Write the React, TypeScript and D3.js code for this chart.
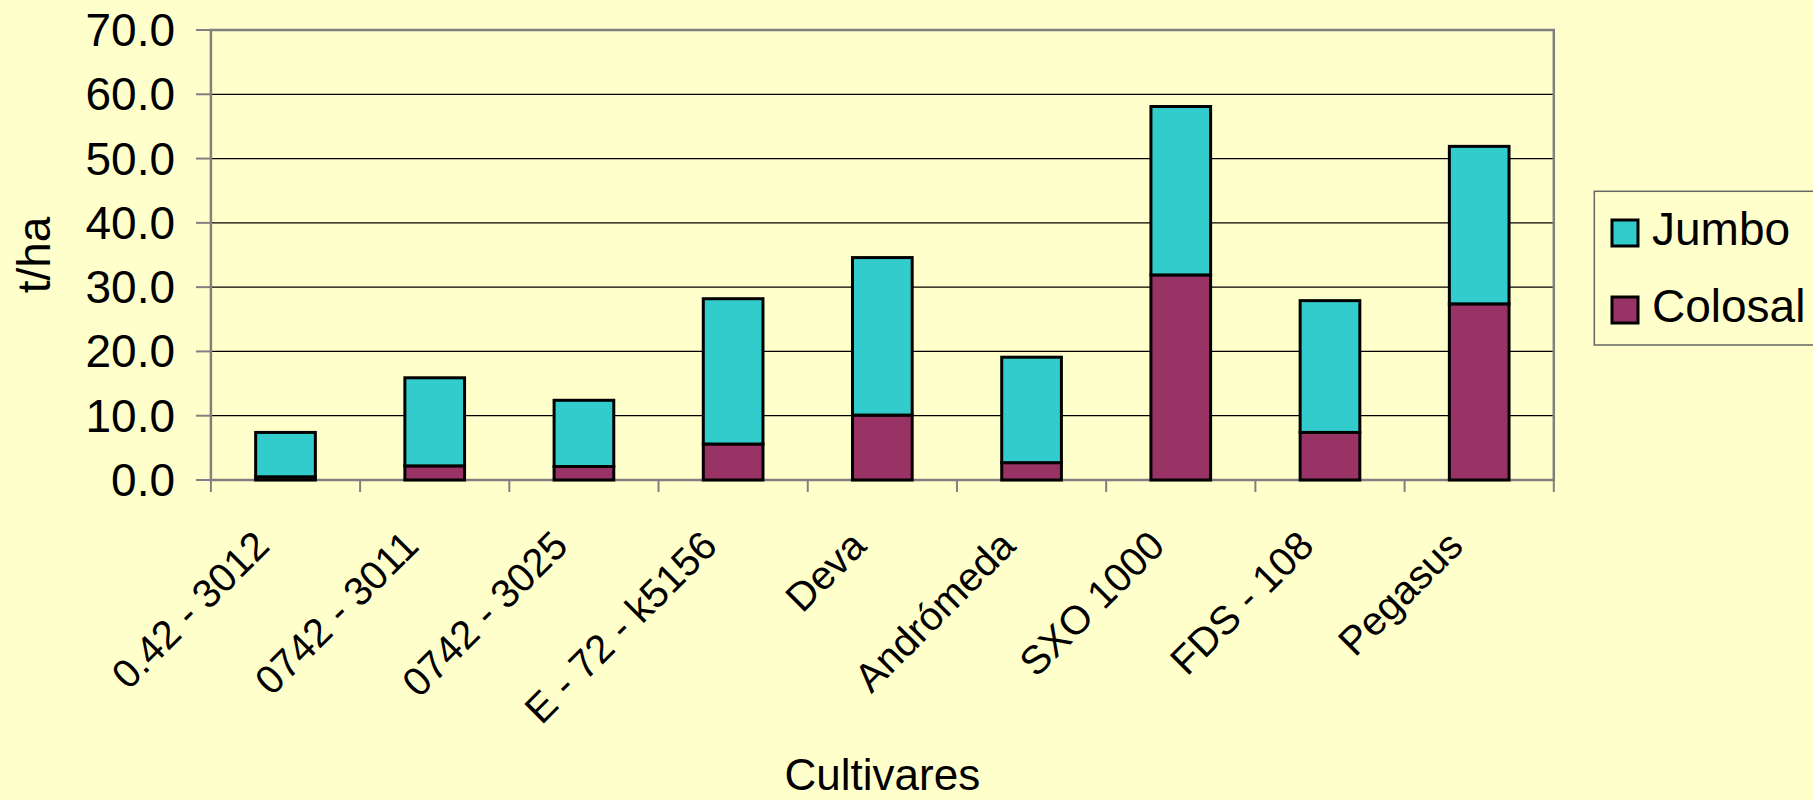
import React from "react";
import * as d3 from "d3";

const categories = [
  "0.42 - 3012",
  "0742 - 3011",
  "0742 - 3025",
  "E - 72 - k5156",
  "Deva",
  "Andrómeda",
  "SXO 1000",
  "FDS - 108",
  "Pegasus",
];
const colosal = [0.5, 2.2, 2.1, 5.6, 10.1, 2.7, 31.9, 7.4, 27.4];
const jumbo = [6.9, 13.7, 10.3, 22.6, 24.5, 16.4, 26.2, 20.5, 24.5];
const yTicks = [0, 10, 20, 30, 40, 50, 60, 70];
const seriesNames = ["Colosal", "Jumbo"];
const seriesColors = ["#993366", "#33CCCC"];

const W = 1813;
const H = 800;
const FONT = "'Liberation Sans', Arial, sans-serif";

export default function App() {
  const left = 210.9;
  const right = 1553.8;
  const top = 30;
  const bottom = 480;

  const x = d3.scaleBand<string>().domain(categories).range([left, right]).padding(0);
  const y = d3.scaleLinear().domain([0, 70]).range([bottom, top]);
  const step = x.step();
  const barW = step * 0.4;

  const rows = categories.map((c, i) => ({ cat: c, Colosal: colosal[i], Jumbo: jumbo[i] }));
  const stack = d3.stack<any>().keys(seriesNames)(rows);

  const boundaries = d3.range(categories.length + 1).map((i) => left + i * step);

  return (
    <svg
      width={W}
      height={H}
      style={{ position: "absolute", left: 0, top: 0, display: "block" }}
      fontFamily={FONT}
    >
      <rect x={0} y={0} width={W} height={H} fill="#FFFFCC" />

      {/* gridlines */}
      {yTicks.slice(1, -1).map((t) => (
        <line key={"g" + t} x1={left} x2={right} y1={y(t)} y2={y(t)} stroke="#000" strokeWidth={1.2} />
      ))}

      {/* plot frame */}
      <rect x={left} y={top} width={right - left} height={bottom - top} fill="none" stroke="#808080" strokeWidth={2.5} />

      {/* y ticks */}
      {yTicks.map((t) => (
        <g key={"yt" + t}>
          <line x1={left - 15} x2={left} y1={y(t)} y2={y(t)} stroke="#808080" strokeWidth={2} />
          <text x={175} y={y(t) + 16} textAnchor="end" fontSize={46} fill="#000">
            {t.toFixed(1)}
          </text>
        </g>
      ))}

      {/* x ticks */}
      {boundaries.map((bx, i) => (
        <line key={"xt" + i} x1={bx} x2={bx} y1={bottom} y2={bottom + 12} stroke="#808080" strokeWidth={2} />
      ))}

      {/* bars */}
      {stack.map((s, si) => (
        <g key={s.key}>
          {s.map((d, i) => (
            <rect
              key={i}
              x={(x(categories[i]) as number) + (step - barW) / 2}
              y={y(d[1])}
              width={barW}
              height={y(d[0]) - y(d[1])}
              fill={seriesColors[si]}
              stroke="#000"
              strokeWidth={3}
            />
          ))}
        </g>
      ))}

      {/* x labels */}
      {categories.map((c) => {
        const cx = (x(c) as number) + step / 2;
        return (
          <text
            key={"xl" + c}
            transform={`translate(${cx - 14},${bottom + 68}) rotate(-45)`}
            textAnchor="end"
            fontSize={40}
            fill="#000"
          >
            {c}
          </text>
        );
      })}

      {/* axis titles */}
      <text x={(left + right) / 2} y={790} textAnchor="middle" fontSize={44} fill="#000">
        Cultivares
      </text>
      <text
        transform={`translate(49.8,${(top + bottom) / 2}) rotate(-90)`}
        textAnchor="middle"
        fontSize={46}
        fill="#000"
      >
        t/ha
      </text>

      {/* legend */}
      <rect x={1594.3} y={191.3} width={260} height={153.7} fill="none" stroke="#666" strokeWidth={1.5} />
      {["Jumbo", "Colosal"].map((name, i) => {
        const sy = [220, 297][i];
        const color = seriesColors[seriesNames.indexOf(name)];
        return (
          <g key={"lg" + name}>
            <rect x={1612} y={sy} width={26} height={26} fill={color} stroke="#000" strokeWidth={3} />
            <text x={1652} y={[245, 322][i]} fontSize={46} fill="#000">
              {name}
            </text>
          </g>
        );
      })}
    </svg>
  );
}
